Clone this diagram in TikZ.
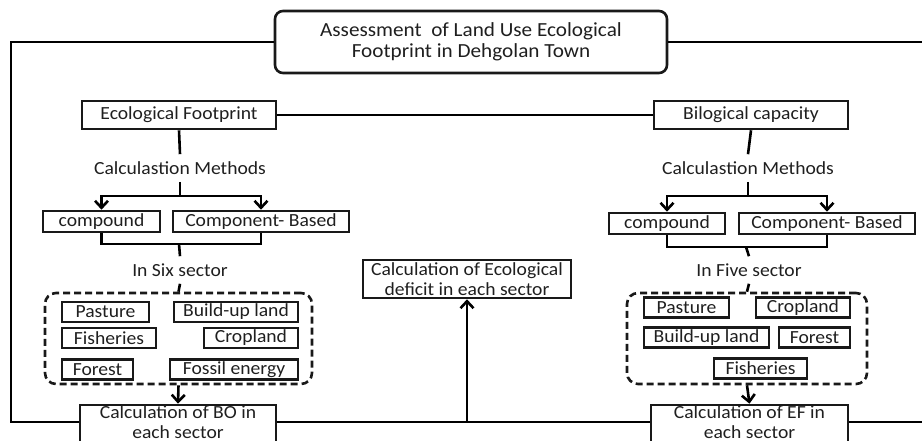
\documentclass[tikz,border=0pt]{standalone}
\usepackage{fontspec}
\setmainfont{Carlito}[FakeStretch=1.06]
\usepackage{tikz}
\usetikzlibrary{arrows.meta,positioning}
\tikzset{
  basic/.style    = {draw=black!90, line width=2.6pt, inner sep=0pt, align=center,
                     text=black!88, font=\fontsize{18.5}{19.5}\selectfont},
  topbox/.style   = {basic, rounded corners=8pt, font=\fontsize{20}{21}\selectfont},
  mainbox/.style  = {basic, minimum height=28pt},
  methbox/.style  = {basic, minimum height=21pt},
  landbox/.style  = {basic, minimum height=20pt},
  calcbox/.style  = {basic, minimum height=38pt},
  textnode/.style = {inner sep=0pt, minimum height=25pt, text=black!88,
                     font=\fontsize{18.5}{19.5}\selectfont},
  dashbox/.style  = {draw=black!90, line width=2.6pt, dash pattern=on 7pt off 4pt,
                     rounded corners=11pt}
}

\begin{document}
\begin{tikzpicture}[x=1pt, y=-1pt, line width=2.6pt,
  >={Straight Barb[length=7pt,width=13pt]}]
\useasboundingbox (0,0) rectangle (922,441);

% top of the tree
\node[topbox, minimum width=392pt, minimum height=62pt] (t) at (471,42)
  {Assessment\ \ of Land Use Ecological\\Footprint in Dehgolan Town};

% the two branches
\node[mainbox, minimum width=194pt] (h1) at (179,115) {Ecological Footprint};
\node[mainbox, minimum width=194pt] (h2) at (751,115) {Bilogical capacity};

\node[textnode] (m1) at (180,168) {Calculastion Methods};
\node[textnode] (m2) at (748,168) {Calculastion Methods};

\node[methbox, minimum width=117pt] (c1) at (101.5,221.5) {compound};
\node[methbox, minimum width=176pt] (c2) at (261,221.5) {Component- Based};
\node[methbox, minimum width=116pt] (c3) at (667,223.5) {compound};
\node[methbox, minimum width=176pt] (c4) at (827,223.5) {Component- Based};

\node[textnode] (s1) at (180,270) {In Six sector};
\node[textnode] (s2) at (749,270) {In Five sector};

% the sectors
\node[dashbox, minimum width=267pt, minimum height=91pt] (d1) at (178.5,338.5) {};
\node[dashbox, minimum width=240pt, minimum height=91pt] (d2) at (747,338.5) {};

\begin{scope}[every node/.style={landbox}]
\node[minimum width=87pt]  (d11) at (105.5,312) {Pasture};
\node[minimum width=124pt] (d12) at (236,312) {Build-up land};
\node[minimum width=94pt]  (d13) at (109,338) {Fisheries};
\node[minimum width=94pt]  (d14) at (251,338) {Cropland};
\node[minimum width=71pt]  (d15) at (97.5,369.5) {Forest};
\node[minimum width=128pt] (d16) at (234,369.5) {Fossil energy};
\end{scope}

\begin{scope}[every node/.style={landbox}]
\node[minimum width=85pt]  (d21) at (686.5,307.5) {Pasture};
\node[minimum width=94pt]  (d22) at (803,307.5) {Cropland};
\node[minimum width=125pt] (d23) at (706.5,337.5) {Build-up land};
\node[minimum width=71pt]  (d24) at (814.5,337.5) {Forest};
\node[minimum width=93pt]  (d25) at (760.5,368.5) {Fisheries};
\end{scope}

% results
\node[calcbox, minimum width=196pt, text depth=4pt] (bo) at (178,424)
  {Calculation of BO in\\each sector};
\node[calcbox, minimum width=197pt, text depth=4pt] (ec) at (749.5,424)
  {Calculation of EF in\\each sector};
\node[calcbox, minimum width=208pt] (df) at (467,279)
  {Calculation of Ecological\\deficit in each sector};

\coordinate (j1) at (180,196);
\coordinate (j2) at (748,196);
\coordinate (k1) at (179,244);
\coordinate (k2) at (746,247);
\coordinate (lb) at (11,422);
\coordinate (rb) at (922,422);
\coordinate (rt) at (922,42);

% frame lines
\draw (t.west) -| (lb) -- (lb -| bo.west);
\draw (t.east) -- (rt);
\draw (bo.east |- lb) -- (ec.west |- lb);
\draw (ec.east |- lb) -- (rb);
\draw[->] (df.south |- lb) -- (df.south);
\draw (h1) -- (h2);

% lines down each branch
\foreach \i in {1,2}{
  \draw (h\i.south) -- (m\i.north);
  \draw (m\i.south) -- (j\i);
  \draw (k\i) -- (s\i.north);
  \draw (s\i.south) -- (d\i.north);
}

\draw[->] (j1) -| (c1.north);
\draw[->] (j1) -| (c2.north);
\draw[->] (j2) -| (c3.north);
\draw[->] (j2) -| (c4.north);

\draw (c1.south) |- (k1) -| (c2.south);
\draw (c3.south) |- (k2) -| (c4.south);

\draw[->] (d1.south) -- (bo.north);
\draw[->] (d2.south) -- (ec.north);

\end{tikzpicture}
\end{document}
